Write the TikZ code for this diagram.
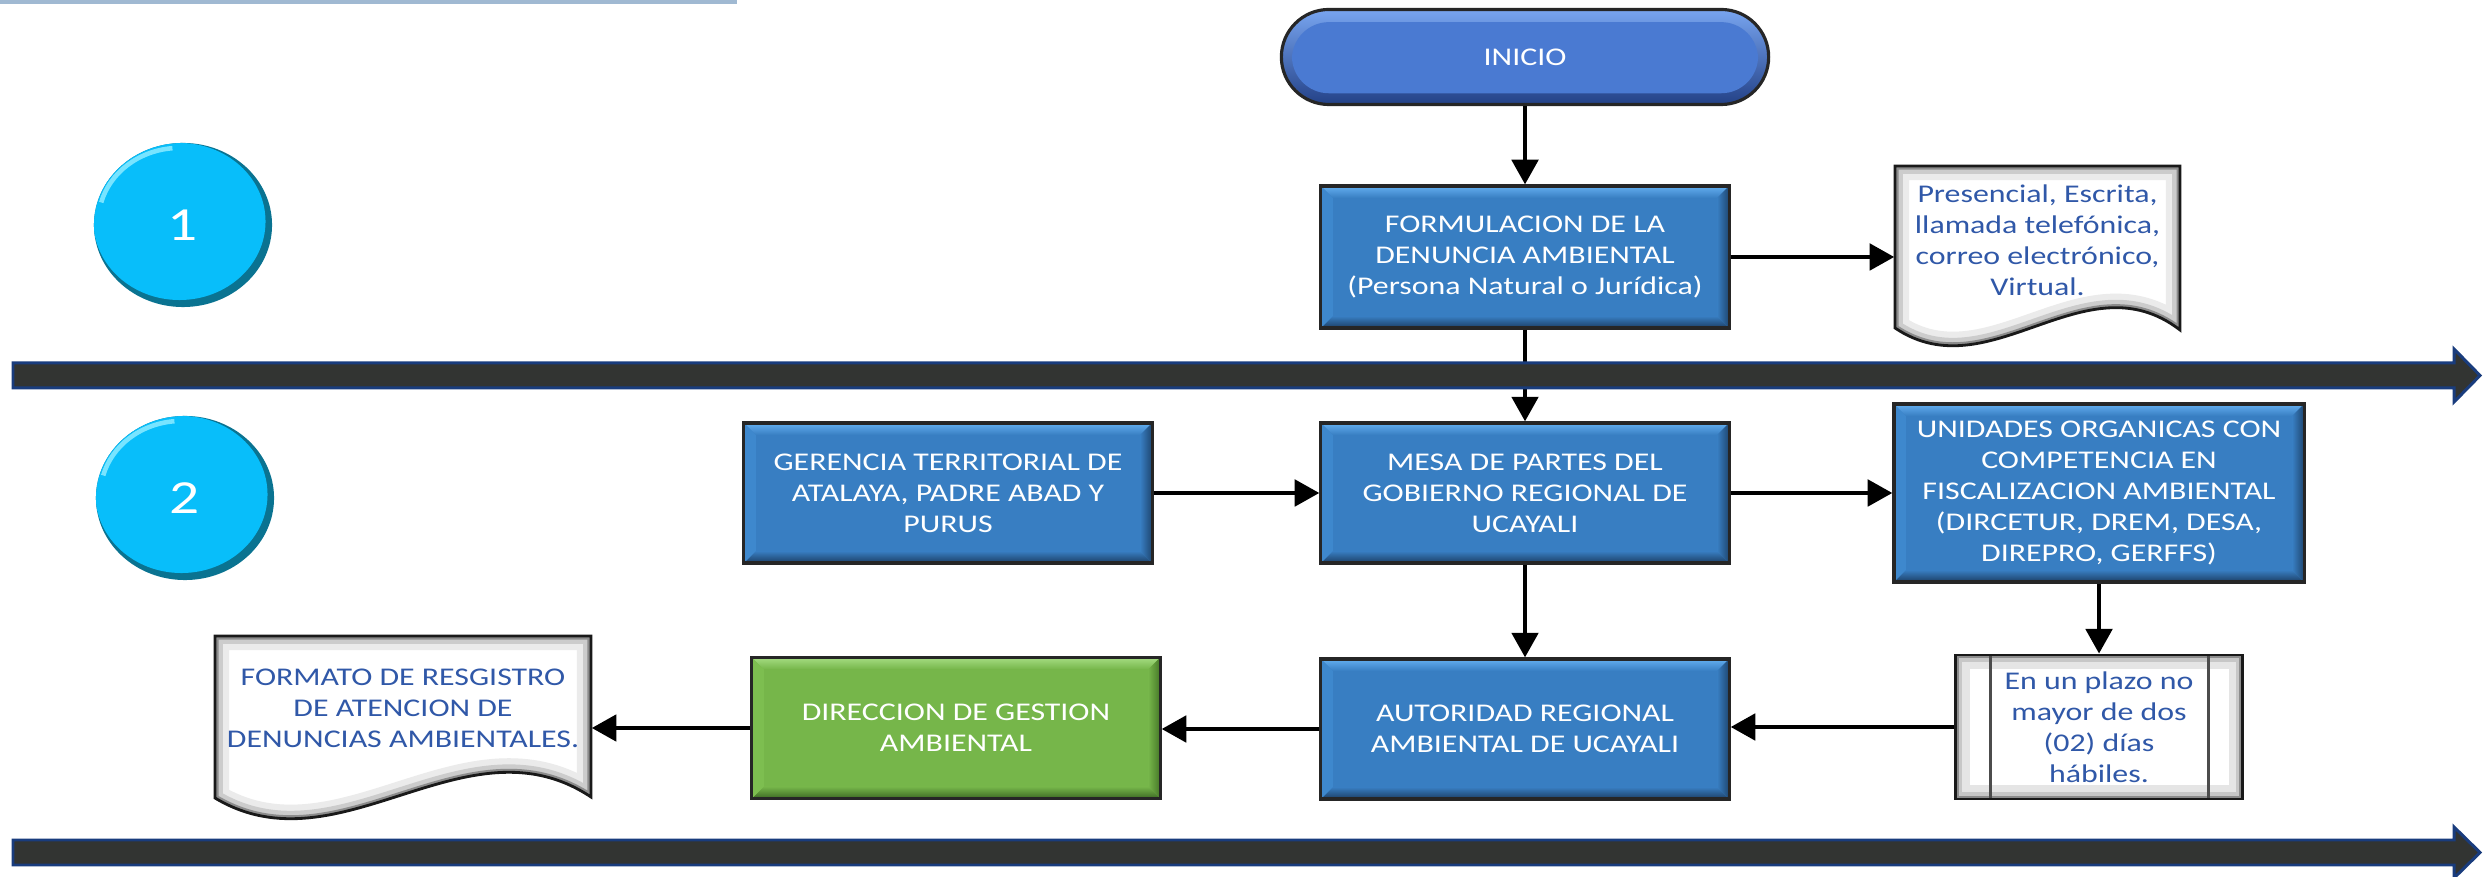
\documentclass[tikz,border=0pt]{standalone}
\usepackage{fontspec}
\setmainfont{Carlito}[FakeStretch=1.25]
\usetikzlibrary{arrows.meta,shapes.geometric}
\definecolor{boxtop}{RGB}{100,175,240}
\definecolor{boxmain}{RGB}{56,126,194}
\definecolor{boxbot}{RGB}{28,62,100}
\definecolor{boxleft}{RGB}{62,136,205}
\definecolor{boxright}{RGB}{30,70,112}
\definecolor{gtop}{RGB}{165,220,130}
\definecolor{gmain}{RGB}{118,182,74}
\definecolor{gbot}{RGB}{60,105,35}
\definecolor{gleft}{RGB}{125,190,80}
\definecolor{gright}{RGB}{70,120,40}
\definecolor{initop}{RGB}{120,165,240}
\definecolor{inimain}{RGB}{74,122,210}
\definecolor{inidark}{RGB}{35,65,135}
\definecolor{circmain}{RGB}{8,190,250}
\definecolor{circdark}{RGB}{10,115,145}
\definecolor{circlight}{RGB}{120,228,255}
\definecolor{banddark}{RGB}{50,52,50}
\definecolor{bandnavy}{RGB}{25,60,125}
\definecolor{doctext}{RGB}{48,88,168}
\definecolor{topline}{RGB}{160,185,210}
\def\presdoc{(1895,166) -- (2180,166) -- (2180,330) .. controls (2085,257) and (1990,392) .. (1895,328) -- cycle}
\def\formdoc{(215,636) -- (591,636) -- (591,797) .. controls (466,714) and (340,873) .. (215,798) -- cycle}
\begin{document}
\begin{tikzpicture}[x=0.01cm,y=-0.01cm,
  txt/.style={font=\fontsize{7.25pt}{8.8pt}\selectfont, align=center},
  arr/.style={-{Triangle[length=7pt,width=7.5pt]}, line width=1.15pt, draw=black},
  bevelfx/.style n args={5}{path picture={
    \path (path picture bounding box.north west) coordinate (bNW)
          (path picture bounding box.north east) coordinate (bNE)
          (path picture bounding box.south west) coordinate (bSW)
          (path picture bounding box.south east) coordinate (bSE);
    \shade[top color=#1,bottom color=#2] (bNW) -- (bNE) -- ([xshift=-3.4pt,yshift=-3.4pt]bNE) -- ([xshift=3.4pt,yshift=-3.4pt]bNW) -- cycle;
    \shade[top color=#2,bottom color=#3] ([xshift=3.4pt,yshift=3.4pt]bSW) -- ([xshift=-3.4pt,yshift=3.4pt]bSE) -- (bSE) -- (bSW) -- cycle;
    \fill[#4] (bNW) -- ([xshift=3.4pt,yshift=-3.4pt]bNW) -- ([xshift=3.4pt,yshift=3.4pt]bSW) -- (bSW) -- cycle;
    \shade[left color=#2,right color=#5] (bNE) -- (bSE) -- ([xshift=-3.4pt,yshift=3.4pt]bSE) -- ([xshift=-3.4pt,yshift=-3.4pt]bNE) -- cycle;
  }},
  bluebox/.style={txt, rectangle, inner sep=0pt, text=white, fill=boxmain, draw=black!85, line width=0.9pt, minimum width=4.08cm, minimum height=1.40cm, bevelfx={boxtop}{boxmain}{boxbot}{boxleft}{boxright}},
  greenbox/.style={txt, rectangle, inner sep=0pt, text=white, fill=gmain, draw=black!85, line width=0.9pt, minimum width=4.08cm, minimum height=1.41cm, bevelfx={gtop}{gmain}{gbot}{gleft}{gright}},
  pill/.style={txt, rectangle, rounded corners=0.475cm, minimum width=4.87cm, minimum height=0.95cm, inner sep=0pt, fill=inidark, draw=black!85, line width=0.9pt, text=white,
    path picture={
      \shade[top color=initop, bottom color=inidark] (path picture bounding box.north west) rectangle (path picture bounding box.south east);
      \fill[inimain, rounded corners=0.37cm] ([xshift=3pt,yshift=-3.6pt]path picture bounding box.north west) rectangle ([xshift=-3pt,yshift=3.2pt]path picture bounding box.south east);
    }},
  circ/.style={ellipse, minimum width=1.78cm, minimum height=1.64cm, inner sep=0pt, fill=circdark, text=white, font=\fontsize{13.5pt}{15pt}\selectfont,
    path picture={
      \fill[circmain] ([xshift=-1pt,yshift=1pt]path picture bounding box.center) ellipse [x radius=0.86cm, y radius=0.785cm];
      \draw[circlight, line width=1.3pt] ([xshift=-1pt,yshift=1pt]path picture bounding box.center) ++(95:0.81cm and 0.735cm) arc[start angle=95, end angle=165, x radius=0.81cm, y radius=0.735cm];
    }},
  plazobox/.style={txt, rectangle, minimum width=2.87cm, minimum height=1.44cm, inner sep=0pt, fill=white, draw=black!90, line width=0.8pt, text=doctext,
    path picture={
      \draw[black!10, line width=8pt] (path picture bounding box.north west) rectangle (path picture bounding box.south east);
      \draw[black!22, line width=4pt] (path picture bounding box.north west) rectangle (path picture bounding box.south east);
      \draw[black!45, line width=1.8pt] (path picture bounding box.north west) rectangle (path picture bounding box.south east);
      \draw[black!70, line width=1pt] ([xshift=0.35cm]path picture bounding box.north west) -- ([xshift=0.35cm]path picture bounding box.south west);
      \draw[black!70, line width=1pt] ([xshift=-0.34cm]path picture bounding box.north east) -- ([xshift=-0.34cm]path picture bounding box.south east);
    }},
  doctxt/.style={txt, text=doctext, inner sep=0pt}
]
\useasboundingbox (0,0) rectangle (2492,877);

% top-left thin line
\draw[topline, line width=0.9pt] (0,2) -- (737,2);

% document shapes
\begin{scope}
  \clip \presdoc;
  \fill[white] \presdoc;
  \draw[black!8, line width=8pt] \presdoc;
  \draw[black!20, line width=4.5pt] \presdoc;
  \draw[black!45, line width=2pt] \presdoc;
\end{scope}
\draw[black!90, line width=0.8pt] \presdoc;
\begin{scope}
  \clip \formdoc;
  \fill[white] \formdoc;
  \draw[black!8, line width=8pt] \formdoc;
  \draw[black!20, line width=4.5pt] \formdoc;
  \draw[black!45, line width=2pt] \formdoc;
\end{scope}
\draw[black!90, line width=0.8pt] \formdoc;

% nodes
\node[pill] (inicio) at (1525,57) {INICIO};
\node[bluebox, minimum height=1.42cm] (form) at (1525,257) {FORMULACION DE LA\\DENUNCIA AMBIENTAL\\(Persona Natural o Jurídica)};
\node[doctxt, minimum width=2.85cm] (pres) at (2037.5,240) {Presencial, Escrita,\\llamada telefónica,\\correo electrónico,\\Virtual.};
\node[bluebox] (ger) at (948,493) {GERENCIA TERRITORIAL DE\\ATALAYA, PADRE ABAD Y\\PURUS};
\node[bluebox] (mesa) at (1525,493) {MESA DE PARTES DEL\\GOBIERNO REGIONAL DE\\UCAYALI};
\node[bluebox, minimum width=4.10cm, minimum height=1.78cm] (uni) at (2099,493) {UNIDADES ORGANICAS CON\\COMPETENCIA EN\\FISCALIZACION AMBIENTAL\\(DIRCETUR, DREM, DESA,\\DIREPRO, GERFFS)};
\node[bluebox] (aut) at (1525,729) {AUTORIDAD REGIONAL\\AMBIENTAL DE UCAYALI};
\node[greenbox] (dir) at (956,728) {DIRECCION DE GESTION\\AMBIENTAL};
\node[plazobox] (plazo) at (2099,727) {En un plazo no\\mayor de dos\\(02) días\\hábiles.};
\node[doctxt, minimum width=3.76cm] (formato) at (403,708) {FORMATO DE RESGISTRO\\DE ATENCION DE\\DENUNCIAS AMBIENTALES.};
\node[circ] (c1) at (183,225) {1};
\node[circ] (c2) at (185,498) {2};

% connectors
\draw[arr] (inicio.south) -- (form.north);
\draw[arr] (form.east) -- (form.east -| pres.west);
\draw[arr] (form.south) -- (mesa.north);
\draw[arr] (ger.east) -- (mesa.west);
\draw[arr] (mesa.east) -- (uni.west);
\draw[arr] (mesa.south) -- (aut.north);
\draw[arr] (uni.south) -- (plazo.north);
\draw[arr] (plazo.west) -- (plazo.west -| aut.east);
\draw[arr] (aut.west) -- (aut.west -| dir.east);
\draw[arr] (dir.west) -- (dir.west -| formato.east);

% phase band arrows
\draw[fill=banddark, draw=bandnavy, line width=0.85pt] (13,363) -- (2454,363) -- (2454,349) -- (2480,375.5) -- (2454,402) -- (2454,388) -- (13,388) -- cycle;
\draw[fill=banddark, draw=bandnavy, line width=0.85pt] (13,840) -- (2454,840) -- (2454,827) -- (2480,852.5) -- (2454,878) -- (2454,865) -- (13,865) -- cycle;
\end{tikzpicture}
\end{document}
